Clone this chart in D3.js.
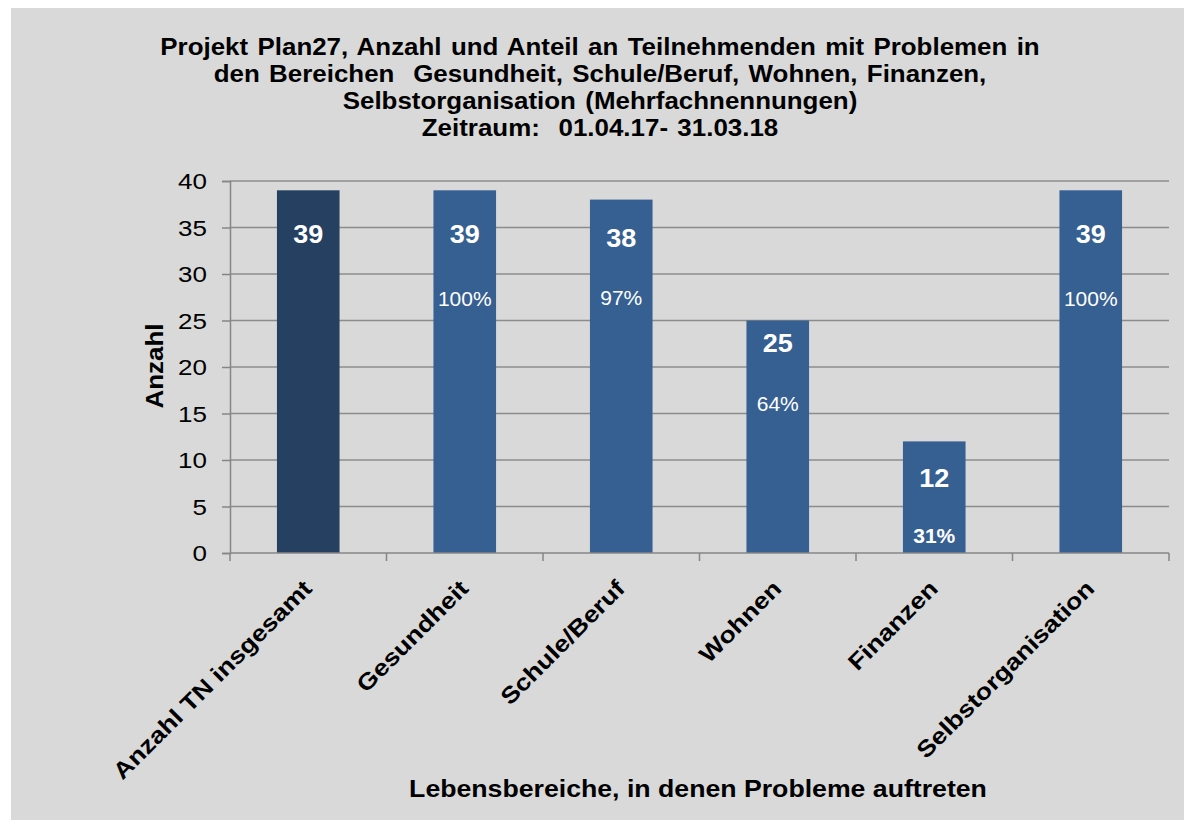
<!DOCTYPE html>
<html>
<head>
<meta charset="utf-8">
<script src="https://cdn.jsdelivr.net/npm/d3@7"></script>
<style>
  html, body { margin: 0; padding: 0; background: #fff; }
  svg { display: block; font-family: "Liberation Sans", Arial, sans-serif; }
  text { white-space: pre; }
</style>
</head>
<body>
<svg id="chart" width="1184" height="820"></svg>
<script>
// Chart data
const categories = ["Anzahl TN insgesamt", "Gesundheit", "Schule/Beruf", "Wohnen", "Finanzen", "Selbstorganisation"];
const counts = [39, 39, 38, 25, 12, 39];
const shares = [null, "100%", "97%", "64%", "31%", "100%"];
const yTicks = [0, 5, 10, 15, 20, 25, 30, 35, 40];
const titleLines = [
    "Projekt Plan27, Anzahl und Anteil an Teilnehmenden mit Problemen in",
    "den Bereichen  Gesundheit, Schule/Beruf, Wohnen, Finanzen,",
    "Selbstorganisation (Mehrfachnennungen)",
    "Zeitraum:  01.04.17- 31.03.18"
];
const xTitle = "Lebensbereiche, in denen Probleme auftreten";
const yTitle = "Anzahl";

// Layout
const svg = d3.select("#chart");
const plot = { left: 230, right: 1169, top: 181, bottom: 553 };
const stretch = 1.16;   // the original fonts run wider than Liberation Sans

// Grey chart panel
svg.append("rect")
    .attr("x", 11).attr("y", 8)
    .attr("width", 1184 - 11).attr("height", 820 - 8)
    .attr("fill", "#d9d9d9");

const x = d3.scaleBand()
    .domain(categories)
    .range([plot.left, plot.right])
    .paddingInner(0.6)
    .paddingOuter(0.3);

const y = d3.scaleLinear()
    .domain([0, 40])
    .range([plot.bottom, plot.top]);

// Horizontal grid lines
svg.append("g")
    .selectAll("line")
    .data(yTicks.filter(d => d > 0))
    .join("line")
    .attr("x1", plot.left).attr("x2", plot.right)
    .attr("y1", d => y(d)).attr("y2", d => y(d))
    .attr("stroke", "#8c8c8c")
    .attr("stroke-width", 1.3);

// Bars
svg.append("g")
    .selectAll("rect")
    .data(categories)
    .join("rect")
    .attr("x", d => x(d))
    .attr("y", (d, i) => y(counts[i]))
    .attr("width", x.bandwidth())
    .attr("height", (d, i) => y(0) - y(counts[i]))
    .attr("fill", (d, i) => i === 0 ? "#254061" : "#366092");

// Y axis line + ticks (labels drawn separately so they can be stretched)
const yAxis = svg.append("g")
    .attr("transform", `translate(${plot.left},0)`)
    .call(d3.axisLeft(y).tickValues(yTicks).tickSize(8).tickFormat(""));
yAxis.select(".domain").attr("stroke", "#868686").attr("stroke-width", 1.5);
yAxis.selectAll(".tick line").attr("stroke", "#868686").attr("stroke-width", 1.5);

svg.append("g")
    .selectAll("text")
    .data(yTicks)
    .join("text")
    .attr("transform", d => `translate(${plot.left - 23},${y(d) + 8}) scale(${stretch},1)`)
    .attr("text-anchor", "end")
    .attr("font-size", 22.4)
    .attr("fill", "#000")
    .text(d => d);

// X axis baseline and tick marks between categories
const step = x.step();
const xBoundaries = d3.range(categories.length + 1).map(i => plot.left + i * step);
svg.append("line")
    .attr("x1", plot.left).attr("x2", plot.right)
    .attr("y1", y(0)).attr("y2", y(0))
    .attr("stroke", "#868686").attr("stroke-width", 1.5);
svg.append("g")
    .selectAll("line")
    .data(xBoundaries)
    .join("line")
    .attr("x1", d => d).attr("x2", d => d)
    .attr("y1", y(0)).attr("y2", y(0) + 8)
    .attr("stroke", "#868686").attr("stroke-width", 1.5);

// Category labels, rotated
svg.append("g")
    .selectAll("text")
    .data(categories)
    .join("text")
    .attr("transform", d => `translate(${x(d) + x.bandwidth() / 2 + 5},${y(0) + 37}) rotate(-45) scale(${stretch},1)`)
    .attr("text-anchor", "end")
    .attr("font-size", 23)
    .attr("font-weight", "bold")
    .attr("fill", "#000")
    .text(d => d);

// Count labels inside bars (placed where the original chart had them, in axis units)
const countLabelAt = [33.3, 33.3, 32.9, 21.6, 7.1, 33.3];
svg.append("g")
    .selectAll("text")
    .data(categories)
    .join("text")
    .attr("transform", (d, i) => `translate(${x(d) + x.bandwidth() / 2},${y(countLabelAt[i])}) scale(1.08,1)`)
    .attr("text-anchor", "middle")
    .attr("font-size", 25)
    .attr("font-weight", "bold")
    .attr("fill", "#fff")
    .text((d, i) => counts[i]);

// Share labels
const shareLabelAt = [null, 26.6, 26.7, 15.3, 1.1, 26.6];
svg.append("g")
    .selectAll("text")
    .data(categories.filter((d, i) => shares[i]))
    .join("text")
    .attr("x", d => x(d) + x.bandwidth() / 2)
    .attr("y", d => y(shareLabelAt[categories.indexOf(d)]))
    .attr("text-anchor", "middle")
    .attr("font-size", 21)
    .attr("font-weight", d => shares[categories.indexOf(d)] === "31%" ? "bold" : "normal")
    .attr("fill", "#fff")
    .text(d => shares[categories.indexOf(d)]);

// Title
svg.append("g")
    .selectAll("text")
    .data(titleLines)
    .join("text")
    .attr("transform", (d, i) => `translate(600,${55 + i * 27}) scale(1.08,1)`)
    .attr("text-anchor", "middle")
    .attr("font-size", 24)
    .attr("font-weight", "bold")
    .attr("word-spacing", 2)
    .attr("fill", "#000")
    .text(d => d);

// Axis titles
svg.append("text")
    .attr("transform", `translate(698,797) scale(${stretch},1)`)
    .attr("text-anchor", "middle")
    .attr("font-size", 23)
    .attr("font-weight", "bold")
    .attr("fill", "#000")
    .text(xTitle);

svg.append("text")
    .attr("transform", `translate(163,366) rotate(-90) scale(1.13,1)`)
    .attr("text-anchor", "middle")
    .attr("font-size", 23)
    .attr("font-weight", "bold")
    .attr("fill", "#000")
    .text(yTitle);
</script>
</body>
</html>
